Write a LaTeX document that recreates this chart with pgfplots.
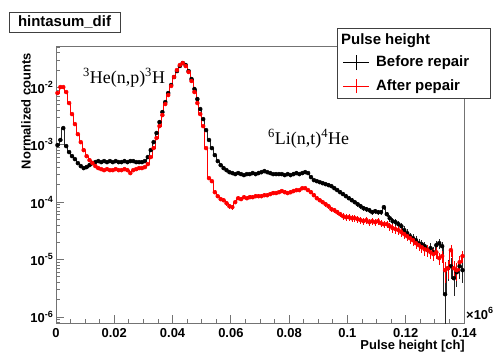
\documentclass[border=0pt]{standalone}
\usepackage{fontspec}
\setsansfont{Liberation Sans}
\newfontfamily\timesf{Liberation Serif}
\usepackage{pgfplots}
\pgfplotsset{compat=1.18}
\usepackage{pgfplotstable}
\pgfplotstableread{
x b be r re
0.000 9.86e-4 .05 7.96e-3 .015
0.001 1.21e-3 .05 1.01e-2 .015
0.002 1.95e-3 .04 1.01e-2 .015
0.003 9.47e-4 .04 8.28e-3 .015
0.004 7.45e-4 .035 5.32e-3 .015
0.005 6.34e-4 .035 3.42e-3 .025
0.006 5.62e-4 .035 2.29e-3 .025
0.007 4.79e-4 .035 1.53e-3 .025
0.008 4.25e-4 .035 1.11e-3 .025
0.009 3.92e-4 .05 8.07e-4 .035
0.010 4.08e-4 .035 6.34e-4 .035
0.011 4.42e-4 .035 5.40e-4 .035
0.012 4.79e-4 .035 4.79e-4 .035
0.013 4.98e-4 .035 4.25e-4 .035
0.014 5.19e-4 .035 3.92e-4 .05
0.015 4.98e-4 .035 3.76e-4 .05
0.016 5.19e-4 .035 3.61e-4 .05
0.017 4.98e-4 .035 3.76e-4 .05
0.018 5.19e-4 .035 3.61e-4 .05
0.019 4.98e-4 .035 3.61e-4 .05
0.020 5.19e-4 .035 3.76e-4 .05
0.021 4.98e-4 .035 3.61e-4 .05
0.022 4.98e-4 .035 3.61e-4 .05
0.023 5.19e-4 .035 3.76e-4 .05
0.024 4.98e-4 .035 3.61e-4 .05
0.025 5.19e-4 .035 3.21e-4 .05
0.026 5.19e-4 .035 3.61e-4 .05
0.027 4.98e-4 .035 3.76e-4 .05
0.028 4.98e-4 .035 3.92e-4 .05
0.029 4.98e-4 .035 3.92e-4 .05
0.030 5.19e-4 .035 4.08e-4 .035
0.031 6.10e-4 .035 4.60e-4 .035
0.032 8.07e-4 .035 6.10e-4 .035
0.033 1.11e-3 .025 8.75e-4 .035
0.034 1.60e-3 .025 1.31e-3 .025
0.035 2.48e-3 .025 2.11e-3 .025
0.036 3.71e-3 .025 3.29e-3 .025
0.037 5.54e-3 .015 5.12e-3 .015
0.038 7.96e-3 .015 7.34e-3 .015
0.039 1.097e-2 .015 1.055e-2 .015
0.040 1.512e-2 .015 1.512e-2 .015
0.041 1.92e-2 .015 2.00e-2 .015
0.042 2.35e-2 .015 2.45e-2 .015
0.043 2.65e-2 .015 2.65e-2 .015
0.044 2.45e-2 .015 2.35e-2 .015
0.045 1.92e-2 .015 1.85e-2 .015
0.046 1.395e-2 .015 1.29e-2 .015
0.047 9.34e-3 .015 8.28e-3 .015
0.048 6.25e-3 .015 5.32e-3 .015
0.049 4.18e-3 .025 3.42e-3 .025
0.050 2.80e-3 .025 2.11e-3 .025
0.051 1.80e-3 .025 8.75e-4 .035
0.052 1.21e-3 .025 2.62e-4 .05
0.053 8.75e-4 .035 2.32e-4 .06
0.054 6.61e-4 .035 1.49e-4 .08
0.055 5.19e-4 .035 1.27e-4 .08
0.056 4.42e-4 .035 1.13e-4 .08
0.057 3.92e-4 .05 1.08e-4 .08
0.058 3.61e-4 .05 9.61e-5 .10
0.059 3.33e-4 .05 8.51e-5 .10
0.060 3.21e-4 .05 8.18e-5 .10
0.061 3.08e-4 .05 1.00e-4 .08
0.062 3.21e-4 .05 1.17e-4 .08
0.063 3.08e-4 .05 1.13e-4 .08
0.064 2.96e-4 .05 1.22e-4 .08
0.065 3.08e-4 .05 1.17e-4 .08
0.066 3.08e-4 .05 1.22e-4 .08
0.067 3.21e-4 .05 1.22e-4 .08
0.068 3.08e-4 .05 1.27e-4 .08
0.069 3.21e-4 .05 1.27e-4 .08
0.070 3.33e-4 .05 1.27e-4 .08
0.071 3.47e-4 .05 1.32e-4 .08
0.072 3.33e-4 .05 1.32e-4 .08
0.073 3.21e-4 .05 1.38e-4 .08
0.074 3.08e-4 .05 1.44e-4 .08
0.075 3.08e-4 .05 1.44e-4 .08
0.076 3.08e-4 .05 1.49e-4 .08
0.077 3.08e-4 .05 1.56e-4 .06
0.078 2.96e-4 .05 1.49e-4 .08
0.079 3.08e-4 .05 1.44e-4 .08
0.080 2.96e-4 .05 1.49e-4 .08
0.081 3.08e-4 .05 1.56e-4 .06
0.082 3.21e-4 .05 1.62e-4 .06
0.083 3.08e-4 .05 1.62e-4 .06
0.084 3.21e-4 .05 1.75e-4 .06
0.085 3.33e-4 .05 1.75e-4 .06
0.086 3.21e-4 .05 1.62e-4 .06
0.087 2.73e-4 .05 1.49e-4 .08
0.088 2.42e-4 .06 1.32e-4 .08
0.089 2.32e-4 .06 1.17e-4 .08
0.090 2.23e-4 .06 1.08e-4 .08
0.091 2.14e-4 .06 1.00e-4 .08
0.092 2.06e-4 .06 9.23e-5 .10
0.093 1.98e-4 .06 8.51e-5 .10
0.094 1.90e-4 .06 7.55e-5 .10
0.095 1.75e-4 .06 7.25e-5 .10
0.096 1.62e-4 .06 6.70e-5 .10
0.097 1.49e-4 .08 6.18e-5 .10
0.098 1.38e-4 .08 5.70e-5 .13
0.099 1.27e-4 .08 5.47e-5 .13
0.100 1.17e-4 .08 5.47e-5 .13
0.101 1.08e-4 .08 5.26e-5 .13
0.102 1.00e-4 .08 5.26e-5 .13
0.103 9.23e-5 .10 5.05e-5 .13
0.104 8.51e-5 .10 4.85e-5 .13
0.105 7.86e-5 .10 4.66e-5 .13
0.106 7.55e-5 .10 4.85e-5 .13
0.107 7.25e-5 .10 4.48e-5 .13
0.108 6.70e-5 .10 4.66e-5 .13
0.109 6.97e-5 .10 4.48e-5 .13
0.110 6.70e-5 .10 4.66e-5 .13
0.111 6.70e-5 .10 4.30e-5 .13
0.112 8.18e-5 .10 4.13e-5 .13
0.113 6.18e-5 .10 4.13e-5 .13
0.114 5.26e-5 .13 3.81e-5 .16
0.115 4.66e-5 .13 3.52e-5 .16
0.116 4.48e-5 .13 3.38e-5 .16
0.117 4.13e-5 .13 3.25e-5 .16
0.118 3.81e-5 .16 3.00e-5 .16
0.119 3.25e-5 .16 2.77e-5 .16
0.120 2.88e-5 .16 2.55e-5 .16
0.121 2.55e-5 .16 2.36e-5 .2
0.122 2.36e-5 .2 2.17e-5 .2
0.123 2.17e-5 .2 1.93e-5 .2
0.124 1.93e-5 .2 1.78e-5 .2
0.125 1.85e-5 .2 1.64e-5 .2
0.126 1.71e-5 .2 1.51e-5 .24
0.127 1.46e-5 .24 1.46e-5 .24
0.128 1.58e-5 .24 1.34e-5 .24
0.129 1.34e-5 .24 1.24e-5 .24
0.130 1.78e-5 .2 1.34e-5 .24
0.131 1.93e-5 .2 1.06e-5 .24
0.132 1.71e-5 .2 1.15e-5 .24
0.133 2.49e-6 .85 6.53e-6 .4
0.134 7.07e-6 .4 7.07e-6 .35
0.135 7.66e-6 .4 1.46e-5 .24
0.136 4.73e-6 .5 7.07e-6 .35
0.137 6.02e-6 .45 6.53e-6 .35
0.138 7.66e-6 .4 9.0e-6 .3
0.139 6.53e-6 .4 1.15e-5 .24
0.140 6.53e-6 0 1.15e-5 0
}\data
\newcommand{\sups}[1]{\raisebox{0.45em}{\fontsize{9}{9}\selectfont #1}}
\definecolor{axgray}{gray}{0.45}
\begin{document}
\begin{tikzpicture}[x=1bp,y=1bp]
\useasboundingbox (0,0) rectangle (494,351);
\fill[white] (0,0) rectangle (494,351);
\begin{axis}[
  at={(56bp,28bp)}, anchor=south west, scale only axis,
  width=408bp, height=277bp,
  xmin=0, xmax=0.14, ymode=log, ymin=7.85e-7, ymax=0.0525,
  axis line style={axgray, line width=0.9bp},
  tick align=inside, tick pos=left,
  every tick/.style={axgray, line width=0.8bp},
  major tick length=8bp, minor tick length=4bp,
  xtick={0,0.02,0.04,0.06,0.08,0.1,0.12,0.14},
  xticklabels={0,0.02,0.04,0.06,0.08,0.1,0.12,0.14},
  minor xtick={0.005,0.01,0.015,0.025,0.03,0.035,0.045,0.05,0.055,0.065,0.07,0.075,0.085,0.09,0.095,0.105,0.11,0.115,0.125,0.13,0.135},
  ytick={1e-6,1e-5,1e-4,1e-3,1e-2},
  yticklabels={10\sups{-6},10\sups{-5},10\sups{-4},10\sups{-3},10\sups{-2}},
  minor ytick={8e-7,9e-7,2e-6,3e-6,4e-6,5e-6,6e-6,7e-6,8e-6,9e-6,2e-5,3e-5,4e-5,5e-5,6e-5,7e-5,8e-5,9e-5,2e-4,3e-4,4e-4,5e-4,6e-4,7e-4,8e-4,9e-4,2e-3,3e-3,4e-3,5e-3,6e-3,7e-3,8e-3,9e-3,2e-2,3e-2,4e-2,5e-2},
  ticklabel style={font=\fontsize{13}{13}\selectfont\sffamily\bfseries},
  xticklabel style={anchor=base, inner sep=0pt, yshift=-14bp},
  yticklabel style={anchor=east, inner sep=0pt, xshift=-3bp},
  scaled x ticks=false,
]
\addplot[const plot, black!85, line width=0.7bp] table[x=x, y=b] {\data};
\addplot[only marks, mark=none, black, forget plot,
  error bars/.cd, y dir=both, y explicit relative,
  error bar style={black!85, line width=0.55bp}, error mark=none]
  table[x expr=\thisrow{x}+0.0005, y=b, y error=be] {\data};
\addplot[const plot, red, line width=0.7bp] table[x=x, y=r] {\data};
\addplot[only marks, mark=none, red, forget plot,
  error bars/.cd, y dir=both, y explicit relative,
  error bar style={red, line width=0.55bp}, error mark=none]
  table[x expr=\thisrow{x}+0.0005, y=r, y error=re] {\data};
\end{axis}
% annotations
\node[anchor=base west, inner sep=0pt, font=\timesf\fontsize{18}{18}\selectfont] at (83,268) {\textsuperscript{3}He(n,p)\textsuperscript{3}H};
\node[anchor=base west, inner sep=0pt, font=\timesf\fontsize{18}{18}\selectfont] at (268,207) {\textsuperscript{6}Li(n,t)\textsuperscript{4}He};
% title box
\node[draw=black!75, fill=white, line width=0.8bp, minimum width=111bp, minimum height=20bp, inner sep=0pt, font=\fontsize{15}{15}\selectfont\sffamily\bfseries] at (64.5,329) {hintasum\_dif};
% axis titles
\node[rotate=90, anchor=east, inner sep=0pt, font=\fontsize{13}{13}\selectfont\sffamily\bfseries] at (26,298) {Normalized counts};
\node[anchor=base east, inner sep=0pt, font=\fontsize{13}{13}\selectfont\sffamily\bfseries] at (465,2) {Pulse height [ch]};
\node[anchor=base west, inner sep=0pt, font=\fontsize{13}{13}\selectfont\sffamily\bfseries] at (466,32) {×10\sups{6}};
% legend
\filldraw[fill=white, draw=black!75, line width=0.8bp] (337,253) rectangle (490,323);
\node[anchor=base west, inner sep=0pt, font=\fontsize{15}{15}\selectfont\sffamily\bfseries] at (341,307) {Pulse height};
\draw[black, line width=0.7bp] (343,288.7) -- (369,288.7) (356,281) -- (356,296);
\node[anchor=base west, inner sep=0pt, font=\fontsize{15}{15}\selectfont\sffamily\bfseries] at (376,284.3) {Before repair};
\draw[red, line width=0.7bp] (343,265) -- (369,265) (356,258) -- (356,272);
\node[anchor=base west, inner sep=0pt, font=\fontsize{15}{15}\selectfont\sffamily\bfseries] at (376,260.3) {After pepair};
\end{tikzpicture}
\end{document}
